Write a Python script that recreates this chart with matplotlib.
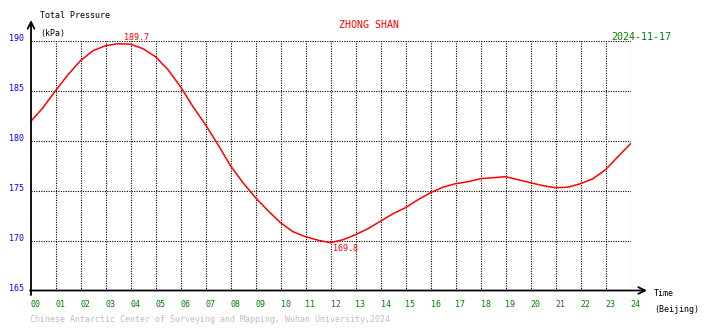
import matplotlib
matplotlib.use('Agg')
import matplotlib.pyplot as plt
from matplotlib.transforms import ScaledTranslation

# Полусуточный ряд давления, шаг 0.5 ч
hours = [i * 0.5 for i in range(49)]
pressure = [
    181.9, 183.3, 185.0, 186.6, 188.0, 189.0, 189.5, 189.7, 189.65, 189.2,
    188.4, 187.1, 185.4, 183.4, 181.6, 179.6, 177.5, 175.8, 174.3, 173.0,
    171.8, 170.9, 170.4, 170.05, 169.8, 170.1, 170.6, 171.2, 171.95, 172.7,
    173.3, 174.1, 174.8, 175.35, 175.7, 175.9, 176.2, 176.3, 176.4, 176.1,
    175.8, 175.5, 175.3, 175.35, 175.7, 176.2, 177.1, 178.4, 179.7,
]
hour_labels = ['%02d' % h for h in range(25)]
y_ticks = [165, 170, 175, 180, 185, 190]

station = 'ZHONG SHAN'
date_str = '2024-11-17'
footer = 'Chinese Antarctic Center of Surveying and Mapping, Wuhan University,2024'

W, H = 710, 328
MONO = 'DejaVu Sans Mono'
plt.rcParams['font.family'] = MONO

fig = plt.figure(figsize=(W / 100, H / 100), dpi=100)
fig.patch.set_facecolor('white')

# оси в пикселях: 0 ч -> x=30.5, 24 ч -> x=630.5; 165 -> y=290.7, 190 -> y=40.7
x0, x1, yb, yt = 30.5, 630.5, 290.7, 40.7
ax = fig.add_axes([x0 / W, 1 - yb / H, (x1 - x0) / W, (yb - yt) / H])
ax.set_xlim(0, 24)
ax.set_ylim(165, 190)
for s in ax.spines.values():
    s.set_visible(False)

# сетка пунктиром
dots = (0, (1, 1.2))
for h in range(1, 25):
    ax.axvline(h, color='black', lw=0.8, linestyle=dots, zorder=1)
for v in y_ticks[1:]:
    ax.axhline(v, color='black', lw=0.8, linestyle=dots, zorder=1)

# кривая давления
ax.plot(hours, pressure, color='#ff0000', lw=1.1, zorder=3)

# подписи максимума и минимума
i_max = pressure.index(max(pressure))
i_min = pressure.index(min(pressure))
ax.annotate('%.1f' % pressure[i_max], xy=(hours[i_max], pressure[i_max]),
            xytext=(4, 1), textcoords='offset points', ha='left', va='bottom',
            color='#ff0000', fontsize=6)
ax.annotate('%.1f' % pressure[i_min], xy=(hours[i_min], pressure[i_min]),
            xytext=(2, -1), textcoords='offset points', ha='left', va='top',
            color='#ff0000', fontsize=6)

# подписи осей (тики)
ax.set_xticks(range(25))
ax.set_xticklabels(hour_labels, ha='left', color='#008000', fontsize=6)
ax.set_yticks(y_ticks)
ax.set_yticklabels([str(v) for v in y_ticks], color='#0000ff', fontsize=6)
ax.tick_params(length=0)
ax.tick_params(axis='x', pad=7)
ax.tick_params(axis='y', pad=5)
for lab in ax.get_yticklabels():
    lab.set_transform(lab.get_transform() + ScaledTranslation(0, 3 / 100, fig.dpi_scale_trans))

# оси со стрелками
arrow = dict(arrowstyle='->', lw=1.3, color='black', mutation_scale=12, shrinkA=0, shrinkB=0)
ax.annotate('', xy=(31, H - 20), xytext=(31, H - 295), xycoords='figure pixels',
            textcoords='figure pixels', arrowprops=arrow, annotation_clip=False)
ax.annotate('', xy=(647, H - 290.5), xytext=(30, H - 290.5), xycoords='figure pixels',
            textcoords='figure pixels', arrowprops=arrow, annotation_clip=False)


def ptext(x, y, s, **kw):
    fig.text(x / W, 1 - y / H, s, ha='left', va='center', **kw)


ptext(40, 16, 'Total Pressure', fontsize=6, color='black')
ptext(40, 33.5, '(kPa)', fontsize=6, color='black')
ptext(339, 25, station, fontsize=7.2, color='#ff0000')
ptext(611.5, 36.5, date_str, fontsize=7.2, color='#008000')
ptext(654, 294, 'Time', fontsize=6, color='black')
ptext(654, 310, '(Beijing)', fontsize=6, color='black')
ptext(30, 320, footer, fontsize=6, color='#bdbdbd')

fig.savefig('out.png', dpi=100)
